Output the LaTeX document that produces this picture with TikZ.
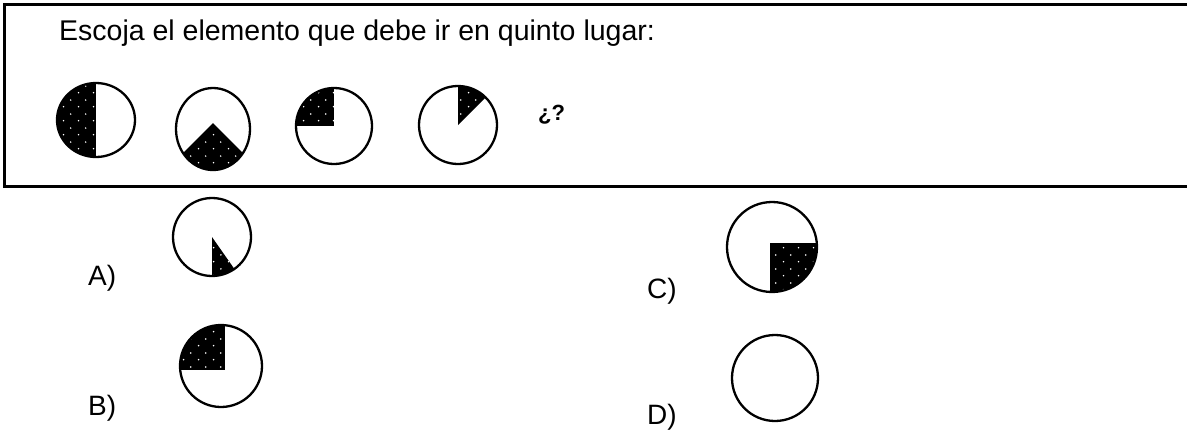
\documentclass[tikz,border=0pt]{standalone}
\usepackage{fontspec}
\setmainfont{Liberation Sans}
\usetikzlibrary{patterns.meta}
\tikzdeclarepattern{name=whitedots, type=uncolored,
  bounding box={(0,0) and (15pt,14pt)}, tile size={(15pt,14pt)},
  code={\fill (3.75pt,3.5pt) circle (0.9pt); \fill (11.25pt,10.5pt) circle (0.9pt);}}
\tikzset{figline/.style={draw=black,line width=2.3pt}}
\tikzset{blackpart/.style={fill=black,postaction={pattern=whitedots,pattern color=white}}}
\tikzset{optlabel/.style={anchor=base west,inner sep=0pt,font=\fontsize{28}{32}\selectfont}}

\begin{document}
\begin{tikzpicture}[x=1pt,y=1pt]
    \useasboundingbox (0,0) rectangle (1187,-432);
    \draw[line width=3pt] (1187,-4) -- (4,-4) -- (4,-186) -- (1187,-186);
    \node[optlabel,font=\fontsize{28.5}{32}\selectfont] (title) at (59,-40) {Escoja el elemento que debe ir en quinto lugar:};

    % first row
    \begin{scope}
        \clip (96,-120) ellipse [x radius=39, y radius=37];
        \fill[blackpart] (96,-80) rectangle (50,-160);
    \end{scope}
    \draw[figline] (96,-120) ellipse [x radius=39, y radius=37];

    \begin{scope}
        \clip (213,-129) ellipse [x radius=37, y radius=41];
        \fill[blackpart] (213,-123) -- (163,-173) -- (263,-173) -- cycle;
    \end{scope}
    \draw[figline] (213,-129) ellipse [x radius=37, y radius=41];

    \begin{scope}
        \clip (334,-126) circle (38);
        \fill[blackpart] (334,-126) rectangle (290,-82);
    \end{scope}
    \draw[figline] (334,-126) circle (38);

    \fill[blackpart] (458,-125) -- ++(90:39) arc[start angle=90, end angle=45, radius=39] -- cycle;
    \draw[figline] (458,-125) circle (39);

    \node[optlabel,font=\fontsize{22}{26}\selectfont\bfseries] (ask) at (538,-120) {¿?};

    % options
    \node[optlabel] (optA) at (88,-285) {A)};
    \fill[blackpart] (212,-237) -- ++(-90:39) arc[start angle=-90, end angle=-55, radius=39] -- cycle;
    \draw[figline] (212,-237) circle (39);

    \node[optlabel] (optB) at (88,-415) {B)};
    \begin{scope}
        \clip (221,-366) circle (41);
        \fill[blackpart] (225,-370) rectangle (175,-320);
    \end{scope}
    \draw[figline] (221,-366) circle (41);

    \node[optlabel] (optC) at (647,-298) {C)};
    \begin{scope}
        \clip (772,-247) circle (45);
        \fill[blackpart] (770,-243) rectangle (820,-295);
    \end{scope}
    \draw[figline] (772,-247) circle (45);

    \node[optlabel] (optD) at (647,-424) {D)};
    \draw[figline] (775,-378) circle (43);
\end{tikzpicture}
\end{document}
